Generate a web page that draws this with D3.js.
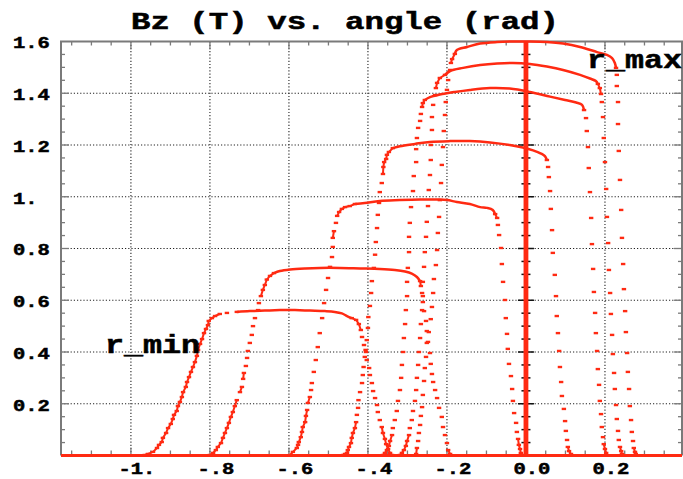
<!DOCTYPE html>
<html><head><meta charset="utf-8">
<script src="https://cdn.jsdelivr.net/npm/d3@7"></script>
<style>
html,body{margin:0;padding:0;background:#fff;}
svg{display:block;}
text{font-family:"Liberation Mono","DejaVu Sans Mono",monospace;font-weight:bold;fill:#000;stroke:#000;stroke-width:0.5px;}
</style></head><body>
<svg id="chart" width="683" height="479"></svg>
<script>
// Bz (T) against angle (rad), one trace per radius from r_min to r_max.
// Each trace: rising flank, top, falling flank, as [angle, Bz] samples.
const c1Rise = [[-0.965,0.002],[-0.957,0.006],[-0.944,0.014],[-0.934,0.029],[-0.929,0.041],[-0.922,0.052],[-0.919,0.068],[-0.911,0.087],[-0.906,0.106],[-0.899,0.122],[-0.894,0.141],[-0.891,0.157],[-0.884,0.172],[-0.881,0.191],[-0.876,0.207],[-0.871,0.226],[-0.868,0.245],[-0.861,0.265],[-0.858,0.284],[-0.853,0.303],[-0.848,0.323],[-0.843,0.342],[-0.838,0.361],[-0.833,0.385],[-0.830,0.408],[-0.825,0.431],[-0.820,0.450],[-0.815,0.473],[-0.810,0.489],[-0.805,0.504],[-0.803,0.520],[-0.795,0.531],[-0.787,0.539],[-0.775,0.547],[-0.757,0.551],[-0.732,0.555]];
const c1Top = [[-0.699,0.558],[-0.661,0.560],[-0.623,0.562],[-0.585,0.562],[-0.547,0.560],[-0.509,0.558],[-0.484,0.555],[-0.466,0.549],[-0.453,0.539]];
const c1Fall = [[-0.441,0.531],[-0.430,0.524],[-0.423,0.508],[-0.418,0.485],[-0.415,0.458],[-0.410,0.427],[-0.405,0.400],[-0.403,0.369],[-0.397,0.338],[-0.395,0.311],[-0.390,0.280],[-0.387,0.249],[-0.382,0.222],[-0.377,0.195],[-0.375,0.168],[-0.370,0.137],[-0.365,0.110],[-0.362,0.087],[-0.357,0.064],[-0.354,0.044],[-0.349,0.025],[-0.344,0.010],[-0.339,0.002]];

const c2Rise = [[-0.800,0.002],[-0.792,0.010],[-0.785,0.021],[-0.780,0.033],[-0.772,0.048],[-0.767,0.068],[-0.762,0.087],[-0.757,0.106],[-0.752,0.126],[-0.747,0.149],[-0.742,0.168],[-0.737,0.191],[-0.732,0.214],[-0.724,0.245],[-0.719,0.265],[-0.716,0.296],[-0.714,0.319],[-0.709,0.346],[-0.706,0.377],[-0.704,0.404],[-0.699,0.435],[-0.694,0.466],[-0.691,0.500],[-0.686,0.531],[-0.678,0.562],[-0.676,0.589],[-0.671,0.616],[-0.666,0.640],[-0.661,0.659],[-0.656,0.680],[-0.648,0.694],[-0.638,0.705]];
const c2Top = [[-0.623,0.713],[-0.597,0.719],[-0.559,0.723],[-0.522,0.725],[-0.471,0.725],[-0.420,0.723],[-0.370,0.721],[-0.332,0.717],[-0.306,0.711],[-0.289,0.703],[-0.276,0.690]];
const c2Fall = [[-0.268,0.674],[-0.266,0.655],[-0.263,0.628],[-0.261,0.593],[-0.258,0.558],[-0.253,0.520],[-0.251,0.481],[-0.248,0.439],[-0.243,0.396],[-0.241,0.354],[-0.238,0.315],[-0.235,0.284],[-0.230,0.253],[-0.225,0.222],[-0.220,0.184],[-0.213,0.149],[-0.210,0.110],[-0.205,0.079],[-0.200,0.048],[-0.197,0.021],[-0.192,0.006]];

const c3Rise = [[-0.597,0.002],[-0.590,0.014],[-0.580,0.029],[-0.577,0.041],[-0.575,0.052],[-0.570,0.071],[-0.567,0.091],[-0.565,0.110],[-0.559,0.129],[-0.557,0.153],[-0.554,0.176],[-0.552,0.203],[-0.547,0.226],[-0.544,0.253],[-0.542,0.280],[-0.537,0.323],[-0.532,0.369],[-0.527,0.419],[-0.522,0.473],[-0.516,0.531],[-0.511,0.589],[-0.506,0.640],[-0.501,0.686],[-0.496,0.729],[-0.491,0.767],[-0.489,0.806],[-0.489,0.841],[-0.486,0.867],[-0.481,0.899],[-0.478,0.926],[-0.473,0.941],[-0.466,0.953],[-0.458,0.960],[-0.446,0.964],[-0.433,0.972]];
const c3Top = [[-0.408,0.976],[-0.370,0.984],[-0.319,0.987],[-0.268,0.989],[-0.218,0.989],[-0.200,0.987],[-0.175,0.980],[-0.142,0.972],[-0.116,0.960],[-0.099,0.957],[-0.084,0.949]];
const c3Fall = [[-0.078,0.933],[-0.073,0.918],[-0.071,0.891],[-0.068,0.852],[-0.063,0.802],[-0.061,0.740],[-0.058,0.671],[-0.053,0.601],[-0.051,0.531],[-0.048,0.470],[-0.046,0.412],[-0.043,0.354],[-0.038,0.307],[-0.035,0.257],[-0.033,0.211],[-0.030,0.164],[-0.025,0.126],[-0.023,0.091],[-0.020,0.064],[-0.018,0.041],[-0.015,0.025],[-0.013,0.010],[-0.008,0.002]];

const c4Rise = [[-0.463,0.002],[-0.458,0.006],[-0.453,0.010],[-0.451,0.021],[-0.448,0.033],[-0.443,0.048],[-0.441,0.068],[-0.438,0.087],[-0.433,0.106],[-0.430,0.129],[-0.428,0.157],[-0.425,0.184],[-0.424,0.214],[-0.420,0.245],[-0.415,0.280],[-0.413,0.311],[-0.411,0.342],[-0.408,0.381],[-0.406,0.408],[-0.403,0.446],[-0.400,0.493],[-0.399,0.535],[-0.395,0.578],[-0.392,0.628],[-0.390,0.674],[-0.385,0.725],[-0.382,0.776],[-0.380,0.825],[-0.377,0.879],[-0.375,0.930],[-0.372,0.976],[-0.370,1.018],[-0.365,1.053],[-0.362,1.088],[-0.361,1.115],[-0.359,1.134],[-0.354,1.146],[-0.352,1.162],[-0.347,1.173],[-0.337,1.188]];
const c4Top = [[-0.319,1.195],[-0.281,1.204],[-0.243,1.212],[-0.192,1.215],[-0.142,1.215],[-0.091,1.210],[-0.041,1.200],[-0.008,1.190],[0.018,1.179],[0.038,1.167],[0.048,1.157]];
const c4Fall = [[0.053,1.142],[0.056,1.115],[0.058,1.076],[0.061,1.022],[0.063,0.953],[0.066,0.871],[0.068,0.783],[0.073,0.698],[0.076,0.616],[0.078,0.539],[0.081,0.473],[0.084,0.404],[0.086,0.342],[0.089,0.284],[0.091,0.230],[0.096,0.180],[0.099,0.133],[0.101,0.095],[0.104,0.060],[0.106,0.033],[0.109,0.017],[0.114,0.006]];

const c5Rise = [[-0.362,0.002],[-0.357,0.010],[-0.352,0.021],[-0.347,0.037],[-0.344,0.056],[-0.339,0.079],[-0.337,0.106],[-0.332,0.137],[-0.327,0.172],[-0.324,0.211],[-0.319,0.253],[-0.316,0.300],[-0.314,0.350],[-0.311,0.400],[-0.309,0.454],[-0.306,0.508],[-0.304,0.562],[-0.301,0.616],[-0.301,0.671],[-0.299,0.725],[-0.296,0.786],[-0.296,0.845],[-0.294,0.899],[-0.291,0.960],[-0.286,1.022],[-0.284,1.080],[-0.278,1.134],[-0.278,1.184],[-0.276,1.227],[-0.273,1.266],[-0.268,1.293],[-0.266,1.320],[-0.263,1.347],[-0.261,1.362],[-0.256,1.374]];
const c5Top = [[-0.243,1.385],[-0.218,1.395],[-0.180,1.405],[-0.142,1.413],[-0.091,1.420],[-0.041,1.418],[0.010,1.405],[0.061,1.387],[0.099,1.374],[0.127,1.364],[0.142,1.355]];
const c5Fall = [[0.147,1.335],[0.152,1.304],[0.154,1.254],[0.157,1.192],[0.159,1.111],[0.162,1.018],[0.165,0.918],[0.167,0.817],[0.170,0.721],[0.172,0.632],[0.175,0.551],[0.177,0.473],[0.180,0.404],[0.182,0.334],[0.185,0.273],[0.187,0.211],[0.190,0.160],[0.192,0.110],[0.195,0.071],[0.197,0.044],[0.200,0.025],[0.203,0.010]];

const c6Rise = [[-0.319,0.002],[-0.314,0.010],[-0.309,0.021],[-0.304,0.037],[-0.301,0.056],[-0.296,0.079],[-0.294,0.106],[-0.289,0.137],[-0.286,0.172],[-0.281,0.211],[-0.278,0.253],[-0.276,0.300],[-0.273,0.350],[-0.271,0.400],[-0.268,0.454],[-0.266,0.508],[-0.263,0.562],[-0.261,0.616],[-0.261,0.671],[-0.258,0.729],[-0.256,0.786],[-0.253,0.845],[-0.251,0.903],[-0.248,0.964],[-0.246,1.026],[-0.243,1.084],[-0.241,1.142],[-0.241,1.200],[-0.238,1.258],[-0.238,1.308],[-0.235,1.355],[-0.230,1.393],[-0.228,1.420],[-0.225,1.440],[-0.218,1.459],[-0.205,1.471]];
const c6Top = [[-0.192,1.486],[-0.159,1.498],[-0.116,1.509],[-0.073,1.515],[-0.033,1.517],[0.010,1.513],[0.053,1.503],[0.094,1.490],[0.137,1.471],[0.162,1.457],[0.177,1.447]];
const c6Fall = [[0.182,1.436],[0.187,1.420],[0.190,1.397],[0.192,1.366],[0.195,1.308],[0.197,1.227],[0.200,1.134],[0.203,1.030],[0.205,0.922],[0.208,0.821],[0.210,0.717],[0.213,0.628],[0.215,0.547],[0.218,0.466],[0.220,0.392],[0.223,0.319],[0.225,0.257],[0.228,0.195],[0.230,0.141],[0.233,0.095],[0.235,0.060],[0.238,0.033],[0.241,0.017],[0.243,0.006]];

const c7Rise = [[-0.278,0.006],[-0.276,0.029],[-0.273,0.056],[-0.271,0.087],[-0.268,0.118],[-0.266,0.153],[-0.263,0.187],[-0.261,0.234],[-0.258,0.288],[-0.256,0.338],[-0.253,0.381],[-0.251,0.435],[-0.246,0.477],[-0.241,0.527],[-0.238,0.574],[-0.235,0.628],[-0.233,0.682],[-0.228,0.736],[-0.225,0.794],[-0.223,0.860],[-0.220,0.922],[-0.218,0.987],[-0.215,1.053],[-0.213,1.123],[-0.210,1.192],[-0.208,1.254],[-0.205,1.316],[-0.203,1.366],[-0.200,1.413],[-0.197,1.451],[-0.192,1.490],[-0.190,1.517],[-0.187,1.532],[-0.180,1.552]];
const c7Top = [[-0.175,1.567],[-0.149,1.579],[-0.116,1.592],[-0.073,1.598],[-0.033,1.600],[0.010,1.600],[0.053,1.598],[0.094,1.592],[0.137,1.579],[0.180,1.559],[0.205,1.548],[0.218,1.536],[0.225,1.517]];
const c7Fall = [[0.228,1.498],[0.230,1.471],[0.230,1.428],[0.233,1.366],[0.233,1.281],[0.235,1.177],[0.238,1.065],[0.241,0.949],[0.243,0.841],[0.246,0.740],[0.248,0.643],[0.251,0.558],[0.253,0.477],[0.256,0.396],[0.258,0.323],[0.261,0.257],[0.263,0.191],[0.266,0.137],[0.268,0.091],[0.271,0.056],[0.273,0.029],[0.276,0.014],[0.278,0.006]];

const xTicks = [-1, -0.8, -0.6, -0.4, -0.2, 0, 0.2];
const xTickLabels = ["-1.", "-.8", "-.6", "-.4", "-.2", "0.0", "0.2"];
const yTicks = [0.2, 0.4, 0.6, 0.8, 1.0, 1.2, 1.4, 1.6];
const yTickLabels = ["0.2", "0.4", "0.6", "0.8", "1.", "1.2", "1.4", "1.6"];

const titleText = "Bz (T) vs. angle (rad)";
const rMinText = "r_min";
const rMaxText = "r_max";

const traces = [
  [c1Rise, c1Top, c1Fall], [c2Rise, c2Top, c2Fall], [c3Rise, c3Top, c3Fall],
  [c4Rise, c4Top, c4Fall], [c5Rise, c5Top, c5Fall], [c6Rise, c6Top, c6Fall],
  [c7Rise, c7Top, c7Fall]
];

const RED = "#ff2a12";
const FRAME = "#7a7a7a";
const x = d3.scaleLinear().domain([-1.177, 0.395]).range([61, 682]);
const y = d3.scaleLinear().domain([0, 1.6]).range([455.5, 41.5]);
const [x0, x1] = x.range();
const [yb, yt] = y.range();

const svg = d3.select("#chart");
svg.append("rect").attr("width", 683).attr("height", 479).attr("fill", "#fff");

svg.append("defs").append("clipPath").attr("id", "plotClip")
  .append("rect").attr("x", x0).attr("y", yt - 2).attr("width", x1 - x0).attr("height", yb - yt + 4);

// dotted grid at the major ticks
const grid = svg.append("g").attr("stroke", "#222").attr("stroke-width", 1.1).attr("stroke-dasharray", "1.2,2");
grid.selectAll(".gx").data(xTicks.filter(v => v !== 0)).join("line")
  .attr("x1", d => x(d)).attr("x2", d => x(d)).attr("y1", yt).attr("y2", yb);
grid.selectAll(".gy").data(yTicks).join("line")
  .attr("x1", x0).attr("x2", x1).attr("y1", d => y(d)).attr("y2", d => y(d));

// frame ticks every 0.05
const isMajor = v => Math.abs(v / 0.2 - Math.round(v / 0.2)) < 1e-6;
const xMinor = d3.range(-23, 8).map(i => +(i * 0.05).toFixed(2)).filter(v => v > -1.177 && v < 0.395);
const yMinor = d3.range(1, 32).map(i => +(i * 0.05).toFixed(2));
const ft = svg.append("g").attr("stroke", FRAME).attr("stroke-width", 1.3);
ft.selectAll(".tb").data(xMinor).join("line")
  .attr("x1", d => x(d)).attr("x2", d => x(d)).attr("y1", yb).attr("y2", d => yb - (isMajor(d) ? 8 : 5));
ft.selectAll(".tt").data(xMinor).join("line")
  .attr("x1", d => x(d)).attr("x2", d => x(d)).attr("y1", yt).attr("y2", d => yt + (isMajor(d) ? 8 : 4));
ft.selectAll(".tl").data(yMinor).join("line")
  .attr("y1", d => y(d)).attr("y2", d => y(d)).attr("x1", x0).attr("x2", d => x0 + (isMajor(d) ? 8 : 4));
ft.selectAll(".tr").data(yMinor).join("line")
  .attr("y1", d => y(d)).attr("y2", d => y(d)).attr("x1", x1).attr("x2", d => x1 - (isMajor(d) ? 8 : 4));

// frame
svg.append("path")
  .attr("d", `M${x0},${yb}V${yt}H${x1}V${yb}`)
  .attr("fill", "none").attr("stroke", FRAME).attr("stroke-width", 2);

// ticks on the angle = 0 axis
svg.append("g").attr("stroke", "#111").attr("stroke-width", 1.5)
  .selectAll("line").data(yMinor).join("line")
  .attr("x1", d => x(0) - (isMajor(d) ? 8 : 4.5)).attr("x2", d => x(0) + (isMajor(d) ? 8 : 4.5))
  .attr("y1", d => y(d)).attr("y2", d => y(d));

// red axes through the origin
svg.append("line").attr("x1", x(0)).attr("x2", x(0)).attr("y1", yt).attr("y2", yb)
  .attr("stroke", RED).attr("stroke-width", 4.8);
svg.append("line").attr("x1", x0).attr("x2", x1).attr("y1", y(0)).attr("y2", y(0))
  .attr("stroke", RED).attr("stroke-width", 3.2);

// traces
const plot = svg.append("g").attr("clip-path", "url(#plotClip)");
const ridge = d3.line().x(d => x(d[0])).y(d => y(d[1])).curve(d3.curveCatmullRom.alpha(0.5));
traces.forEach(([rise, top, fall]) => {
  const crest = [rise[rise.length - 1], ...top, fall[0]];
  plot.append("path").datum(crest).attr("d", ridge)
    .attr("fill", "none").attr("stroke", RED).attr("stroke-width", 2.5);
  [rise, fall].forEach(edge => {
    const links = [];
    for (let i = 1; i < edge.length; i++) {
      const a = edge[i - 1], b = edge[i];
      if (Math.hypot(x(b[0]) - x(a[0]), y(b[1]) - y(a[1])) < 7) links.push([a, b]);
    }
    plot.append("g").selectAll("line").data(links).join("line")
      .attr("x1", d => x(d[0][0])).attr("y1", d => y(d[0][1]))
      .attr("x2", d => x(d[1][0])).attr("y2", d => y(d[1][1]))
      .attr("stroke", RED).attr("stroke-width", 2);
    plot.append("g").selectAll("rect").data(edge).join("rect")
      .attr("x", d => x(d[0]) - 2.2).attr("y", d => y(d[1]) - 1.2)
      .attr("width", 4.4).attr("height", 2.4).attr("fill", RED);
  });
});

// tick labels
const CH = 12.3;
svg.append("g").selectAll("text").data(xTicks).join("text")
  .attr("x", d => x(d) - 12.5).attr("y", 474)
  .attr("font-size", 16)
  .attr("textLength", (d, i) => xTickLabels[i].length * CH).attr("lengthAdjust", "spacingAndGlyphs")
  .text((d, i) => xTickLabels[i]);
svg.append("g").selectAll("text").data(yTicks).join("text")
  .attr("x", 13).attr("y", d => y(d) + 6.8)
  .attr("font-size", 17)
  .attr("textLength", (d, i) => yTickLabels[i].length * CH).attr("lengthAdjust", "spacingAndGlyphs")
  .text((d, i) => yTickLabels[i]);

// title and radius labels
svg.append("text").attr("x", 131).attr("y", 28.5).attr("font-size", 23)
  .attr("textLength", 428).attr("lengthAdjust", "spacingAndGlyphs").text(titleText);
svg.append("text").attr("x", 105).attr("y", 353).attr("font-size", 25)
  .attr("textLength", 95).attr("lengthAdjust", "spacingAndGlyphs").text(rMinText);
svg.append("text").attr("x", 587).attr("y", 68).attr("font-size", 25)
  .attr("textLength", 95).attr("lengthAdjust", "spacingAndGlyphs").text(rMaxText);
</script></body></html>
